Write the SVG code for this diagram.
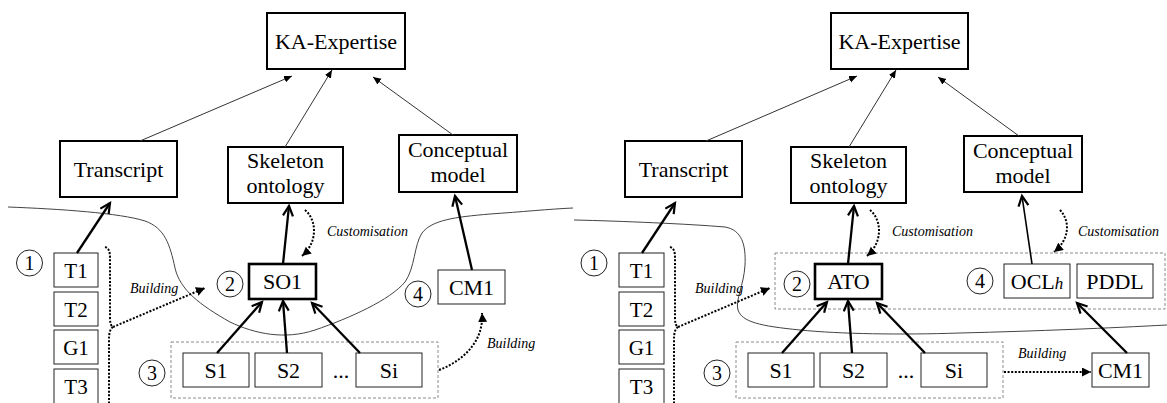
<svg xmlns="http://www.w3.org/2000/svg" width="1167" height="403" viewBox="0 0 1167 403" font-family="'Liberation Serif', 'DejaVu Serif', serif">
  <style>
    text { font-family: 'Liberation Serif', 'DejaVu Serif', serif; fill: #000; }
    .lbl { font-size: 22px; text-anchor: middle; }
    .sm { font-size: 21px; text-anchor: middle; }
    .num { font-size: 20px; text-anchor: middle; }
    .note { font-size: 14px; font-style: italic; }
    .box { fill: #fff; stroke: #000; stroke-width: 2; }
    .bold { fill: #fff; stroke: #000; stroke-width: 2.6; }
    .thin { fill: #fff; stroke: #222; stroke-width: 1; }
    .circ { fill: #fff; stroke: #222; stroke-width: 1; }
    .group { fill: none; stroke: #8a8a8a; stroke-width: 1; stroke-dasharray: 3 2; }
    .boundary { fill: none; stroke: #444; stroke-width: 1; }
    .link { fill: none; stroke: #333; stroke-width: 1; marker-end: url(#tri); }
    .strong { fill: none; stroke: #000; stroke-width: 2.3; marker-end: url(#vee); }
    .mid { fill: none; stroke: #000; stroke-width: 1.6; marker-end: url(#vee); }
    .dots { fill: none; stroke: #000; stroke-width: 2; stroke-dasharray: 2 1.6; }
    .dotarrow { fill: none; stroke: #000; stroke-width: 2; stroke-dasharray: 2 1.6; marker-end: url(#dtri); }
  </style>
  <defs>
    <marker id="tri" markerUnits="userSpaceOnUse" markerWidth="9" markerHeight="8" refX="8" refY="3.5" orient="auto">
      <path d="M0,0 L8,3.5 L0,7 z" fill="#000"/>
    </marker>
    <marker id="vee" markerUnits="userSpaceOnUse" markerWidth="14" markerHeight="14" refX="11" refY="6" orient="auto">
      <path d="M1,1 L11,6 L1,11" fill="none" stroke="#000" stroke-width="2.2"/>
    </marker>
    <marker id="dtri" markerUnits="userSpaceOnUse" markerWidth="11" markerHeight="10" refX="9" refY="4.5" orient="auto">
      <path d="M0,0 L9,4.5 L0,9 z" fill="#000"/>
    </marker>
  </defs>

  <!-- ===== Left scheme ===== -->
  <g id="left-boundary">
    <path class="boundary" d="M8,207 C60,209 120,213 145,221 C165,228 170,245 175,268 C180,290 200,305 230,322 C255,334 285,340 315,330 C350,318 390,300 405,282 C415,268 414,245 422,233 C432,220 455,217 490,214 C520,212 550,209 573,208"/>
  </g>

  <g id="L-ka"><rect class="box" x="267" y="13" width="138" height="56"/><text class="lbl" x="336" y="49">KA-Expertise</text></g>
  <g id="L-transcript"><rect class="box" x="60" y="141" width="117" height="56"/><text class="lbl" x="118.5" y="177">Transcript</text></g>
  <g id="L-skeleton"><rect class="box" x="228" y="147" width="115" height="56"/><text class="lbl" x="285.5" y="168">Skeleton</text><text class="lbl" x="285.5" y="193">ontology</text></g>
  <g id="L-conceptual"><rect class="box" x="399" y="135" width="118" height="57"/><text class="lbl" x="458" y="157">Conceptual</text><text class="lbl" x="458" y="182">model</text></g>

  <g id="L-transcripts">
    <rect class="thin" x="54" y="253" width="44" height="34"/><text class="sm" x="76" y="277.5">T1</text>
    <rect class="thin" x="54" y="292" width="44" height="34"/><text class="sm" x="76" y="316.5">T2</text>
    <rect class="thin" x="54" y="330" width="44" height="34"/><text class="sm" x="76" y="354.5">G1</text>
    <rect class="thin" x="54" y="369" width="44" height="38"/><text class="sm" x="76" y="394">T3</text>
  </g>
  <g id="L-so1"><rect class="bold" x="249" y="264" width="67" height="35"/><text class="lbl" x="282.5" y="289">SO1</text></g>
  <g id="L-sources">
    <rect class="group" x="171" y="342" width="267" height="56"/>
    <rect class="thin" x="183" y="353" width="66" height="34"/><text class="lbl" x="216" y="378">S1</text>
    <rect class="thin" x="255" y="353" width="67" height="34"/><text class="lbl" x="288.5" y="378">S2</text>
    <text class="lbl" x="341" y="378">...</text>
    <rect class="thin" x="356" y="353" width="66" height="34"/><text class="lbl" x="389" y="378">Si</text>
  </g>
  <g id="L-cm1"><rect class="thin" x="438" y="270" width="67" height="34"/><text class="lbl" x="471.5" y="295">CM1</text></g>

  <g id="L-steps">
    <circle class="circ" cx="29.5" cy="263" r="13"/><text class="num" x="29.5" y="270">1</text>
    <circle class="circ" cx="230" cy="284" r="13"/><text class="num" x="230" y="291">2</text>
    <circle class="circ" cx="152" cy="373" r="13"/><text class="num" x="152" y="380">3</text>
    <circle class="circ" cx="418" cy="294" r="13"/><text class="num" x="418" y="301">4</text>
  </g>

  <g id="L-connectors">
    <path class="link" d="M140,141 L292,76"/>
    <path class="link" d="M285,147 L332,70"/>
    <path class="link" d="M453,135 L373,77"/>
    <path class="strong" d="M77,253 L110,203"/>
    <path class="strong" d="M283,264 L289,206"/>
    <path class="strong" d="M217,353 L262,302"/>
    <path class="strong" d="M287,353 L283,301"/>
    <path class="strong" d="M360,353 L312,303"/>
    <path class="strong" d="M472,270 L455,196"/>
    <path class="dotarrow" d="M305,210 C317,220 318,242 302,256"/>
    <path class="dots" d="M105,247 C109,248 110,252 110,258 L110,318 C110,323 111,326 113,327"/>
    <path class="dots" d="M113,327 C110,329 109,333 109,340 L109,403"/>
    <path class="dotarrow" d="M113,327 L205,288"/>
    <path class="dotarrow" d="M439,370 C465,360 484,340 482,313"/>
  </g>
  <g id="L-notes">
    <text class="note" x="327" y="236">Customisation</text>
    <text class="note" x="130" y="293">Building</text>
    <text class="note" x="487" y="348">Building</text>
  </g>

  <!-- ===== Right scheme ===== -->
  <g id="right-boundary">
    <path class="boundary" d="M574,220 C620,221 690,224 725,227 C742,230 746,245 745,265 C744,285 735,300 738,310 C742,322 760,326 800,330 C840,334 900,335 960,333 C1040,331 1110,328 1167,325"/>
  </g>

  <g id="R-ka"><rect class="box" x="831" y="13" width="137" height="56"/><text class="lbl" x="899.5" y="49">KA-Expertise</text></g>
  <g id="R-transcript"><rect class="box" x="625" y="141" width="117" height="56"/><text class="lbl" x="683.5" y="177">Transcript</text></g>
  <g id="R-skeleton"><rect class="box" x="791" y="147" width="115" height="56"/><text class="lbl" x="848.5" y="168">Skeleton</text><text class="lbl" x="848.5" y="193">ontology</text></g>
  <g id="R-conceptual"><rect class="box" x="964" y="136" width="118" height="56"/><text class="lbl" x="1023" y="158">Conceptual</text><text class="lbl" x="1023" y="183">model</text></g>

  <g id="R-transcripts">
    <rect class="thin" x="619" y="253" width="45" height="34"/><text class="sm" x="641.5" y="277.5">T1</text>
    <rect class="thin" x="619" y="292" width="45" height="34"/><text class="sm" x="641.5" y="316.5">T2</text>
    <rect class="thin" x="619" y="330" width="45" height="34"/><text class="sm" x="641.5" y="354.5">G1</text>
    <rect class="thin" x="619" y="369" width="45" height="38"/><text class="sm" x="641.5" y="394">T3</text>
  </g>
  <g id="R-models">
    <rect class="group" x="775" y="253" width="390" height="56"/>
    <rect class="bold" x="815" y="264" width="67" height="35"/><text class="lbl" x="848.5" y="289">ATO</text>
    <rect class="thin" x="1004" y="264" width="66" height="34"/><text class="lbl" x="1037" y="289">OCL<tspan font-style="italic" font-size="17">h</tspan></text>
    <rect class="thin" x="1077" y="264" width="76" height="34"/><text class="lbl" x="1115" y="289">PDDL</text>
  </g>
  <g id="R-sources">
    <rect class="group" x="736" y="342" width="267" height="56"/>
    <rect class="thin" x="748" y="353" width="66" height="34"/><text class="lbl" x="781" y="378">S1</text>
    <rect class="thin" x="820" y="353" width="67" height="34"/><text class="lbl" x="853.5" y="378">S2</text>
    <text class="lbl" x="906" y="378">...</text>
    <rect class="thin" x="921" y="353" width="66" height="34"/><text class="lbl" x="954" y="378">Si</text>
  </g>
  <g id="R-cm1"><rect class="thin" x="1092" y="353" width="57" height="34"/><text class="lbl" x="1120.5" y="378">CM1</text></g>

  <g id="R-steps">
    <circle class="circ" cx="594" cy="263" r="13"/><text class="num" x="594" y="270">1</text>
    <circle class="circ" cx="797" cy="284" r="13"/><text class="num" x="797" y="291">2</text>
    <circle class="circ" cx="717" cy="373" r="13"/><text class="num" x="717" y="380">3</text>
    <circle class="circ" cx="980" cy="281" r="13"/><text class="num" x="980" y="288">4</text>
  </g>

  <g id="R-connectors">
    <path class="link" d="M706,141 L857,76"/>
    <path class="link" d="M849,147 L896,70"/>
    <path class="link" d="M1019,136 L938,77"/>
    <path class="strong" d="M642,253 L675,203"/>
    <path class="strong" d="M848,264 L854,206"/>
    <path class="strong" d="M782,353 L827,302"/>
    <path class="strong" d="M852,353 L848,301"/>
    <path class="strong" d="M925,353 L877,303"/>
    <path class="mid" d="M1032,264 L1022,196"/>
    <path class="strong" d="M1127,353 L1077,303"/>
    <path class="dotarrow" d="M870,210 C882,220 883,242 867,256"/>
    <path class="dotarrow" d="M1060,210 C1071,222 1069,240 1054,252"/>
    <path class="dots" d="M670,247 C674,248 675,252 675,258 L675,318 C675,323 676,326 678,327"/>
    <path class="dots" d="M678,327 C675,329 674,333 674,340 L674,403"/>
    <path class="dotarrow" d="M678,327 L770,288"/>
    <path class="dotarrow" d="M1004,372 L1091,372"/>
  </g>
  <g id="R-notes">
    <text class="note" x="892" y="236">Customisation</text>
    <text class="note" x="1078" y="236">Customisation</text>
    <text class="note" x="695" y="293">Building</text>
    <text class="note" x="1018" y="358">Building</text>
  </g>
</svg>
